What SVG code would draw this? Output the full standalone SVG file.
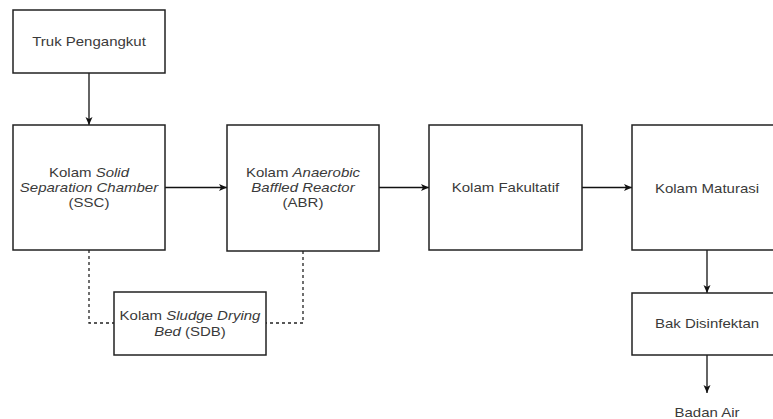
<svg xmlns="http://www.w3.org/2000/svg" width="773" height="419" viewBox="0 0 773 419">
  <defs>
    <marker id="arrow" markerWidth="10" markerHeight="10" refX="9" refY="5" orient="auto" markerUnits="userSpaceOnUse">
      <path d="M1,1.5 L9,5 L1,8.5 L3,5 Z" fill="#111"/>
    </marker>
    <style>
      .box { fill: #fff; stroke: #222; stroke-width: 1.5; }
      .lbl { font-family: "Liberation Sans", Arial, sans-serif; font-size: 12.5px; fill: #3a3a3a; text-anchor: middle; }
      .it { font-style: italic; }
      .flow { fill: none; stroke: #111; stroke-width: 1.3; }
      .dash { fill: none; stroke: #222; stroke-width: 1.3; stroke-dasharray: 3 3; }
    </style>
  </defs>
  <rect width="773" height="419" fill="#fff"/>

  <!-- connectors -->
  <g id="connectors">
    <line class="flow" x1="89" y1="73" x2="89" y2="125" marker-end="url(#arrow)"/>
    <line class="flow" x1="165" y1="187.5" x2="227" y2="187.5" marker-end="url(#arrow)"/>
    <line class="flow" x1="379" y1="187.5" x2="429" y2="187.5" marker-end="url(#arrow)"/>
    <line class="flow" x1="582" y1="187.5" x2="632" y2="187.5" marker-end="url(#arrow)"/>
    <line class="flow" x1="707" y1="250" x2="707" y2="293" marker-end="url(#arrow)"/>
    <line class="flow" x1="707" y1="355" x2="707" y2="393" marker-end="url(#arrow)"/>
    <polyline class="dash" points="89,250 89,323 114,323"/>
    <polyline class="dash" points="303,251 303,323 266,323"/>
  </g>

  <g id="truk">
    <rect class="box" x="13" y="10" width="152" height="63"/>
    <g transform="translate(89,0) scale(1.2,1)">
      <text class="lbl" x="0" y="46">Truk Pengangkut</text>
    </g>
  </g>

  <g id="ssc">
    <rect class="box" x="13" y="125" width="152" height="125"/>
    <g transform="translate(89,0) scale(1.2,1)">
      <text class="lbl" x="0" y="177">Kolam <tspan class="it">Solid</tspan></text>
      <text class="lbl it" x="0" y="192">Separation Chamber</text>
      <text class="lbl" x="0" y="207">(SSC)</text>
    </g>
  </g>

  <g id="abr">
    <rect class="box" x="227" y="125" width="152" height="126"/>
    <g transform="translate(303,0) scale(1.2,1)">
      <text class="lbl" x="0" y="177">Kolam <tspan class="it">Anaerobic</tspan></text>
      <text class="lbl it" x="0" y="192">Baffled Reactor</text>
      <text class="lbl" x="0" y="207">(ABR)</text>
    </g>
  </g>

  <g id="fakultatif">
    <rect class="box" x="429" y="125" width="153" height="125"/>
    <g transform="translate(505.5,0) scale(1.2,1)">
      <text class="lbl" x="0" y="192">Kolam Fakultatif</text>
    </g>
  </g>

  <g id="maturasi">
    <rect class="box" x="632" y="125" width="152" height="125"/>
    <g transform="translate(707,0) scale(1.2,1)">
      <text class="lbl" x="0" y="193">Kolam Maturasi</text>
    </g>
  </g>

  <g id="disinfektan">
    <rect class="box" x="632" y="293" width="152" height="62"/>
    <g transform="translate(707,0) scale(1.2,1)">
      <text class="lbl" x="0" y="328">Bak Disinfektan</text>
    </g>
  </g>

  <g id="badan-air">
    <g transform="translate(707,0) scale(1.2,1)">
      <text class="lbl" x="0" y="417">Badan Air</text>
    </g>
  </g>

  <g id="sdb">
    <rect class="box" x="114" y="292" width="152" height="63"/>
    <g transform="translate(190,0) scale(1.2,1)">
      <text class="lbl" x="0" y="320">Kolam <tspan class="it">Sludge Drying</tspan></text>
      <text class="lbl" x="0" y="336"><tspan class="it">Bed</tspan> (SDB)</text>
    </g>
  </g>
</svg>
